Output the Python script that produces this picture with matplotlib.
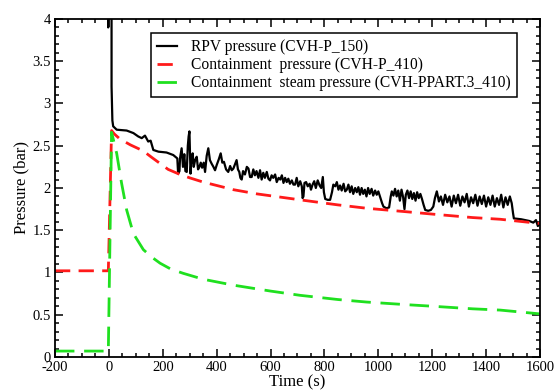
import matplotlib
matplotlib.use("Agg")
import matplotlib.pyplot as plt
from matplotlib.ticker import MultipleLocator

plt.rcParams["font.family"] = ["Liberation Serif", "DejaVu Serif"]
plt.rcParams["axes.unicode_minus"] = False

# RPV pressure (CVH-P_150) (off-scale before t=0)
t_rpv = [-200, -3, -2.5, -2, 8, 10, 13, 16, 29, 66, 91, 109, 122, 134, 146, 155, 165, 184,
         214, 239, 254, 257, 262, 264, 270, 275, 280, 284, 289, 293, 296, 299, 303, 307,
         311, 315, 320, 326, 331, 336, 341, 346, 352, 357, 363, 369, 375, 381, 388, 394,
         400, 408, 415, 421, 427, 435, 443, 450, 456, 462, 468, 474, 479, 484, 488, 493,
         498, 505, 512, 518, 524, 530, 536, 542, 548, 555, 561, 567, 573, 579, 586, 592,
         598, 604, 610, 617, 623, 630, 636, 642, 648, 654, 660, 666, 672, 679, 685, 691,
         697, 703, 710, 716, 719, 722, 726, 732, 738, 745, 750, 756, 762, 768, 775, 782,
         788, 794, 798, 803, 812, 821, 828, 833, 840, 846, 852, 858, 864, 871, 877, 883,
         889, 895, 901, 907, 914, 920, 926, 932, 938, 944, 950, 956, 962, 968, 975, 981,
         988, 994, 1000, 1008, 1014, 1019, 1030, 1040, 1046, 1050, 1056, 1062, 1068, 1074,
         1080, 1086, 1092, 1097, 1102, 1108, 1114, 1120, 1126, 1132, 1138, 1144, 1150, 1156,
         1162, 1168, 1174, 1185, 1195, 1204, 1210, 1217, 1225, 1232, 1240, 1248, 1256, 1264,
         1272, 1280, 1288, 1296, 1304, 1312, 1320, 1328, 1336, 1344, 1352, 1360, 1368, 1376,
         1384, 1392, 1400, 1408, 1416, 1424, 1432, 1440, 1448, 1456, 1464, 1472, 1480, 1488,
         1495, 1500, 1503, 1530, 1560, 1575, 1585, 1592, 1600]
p_rpv = [70, 70, 3.9, 70, 70, 3.2, 2.8, 2.73, 2.69, 2.68, 2.65, 2.61, 2.59, 2.62, 2.55, 2.56,
         2.45, 2.43, 2.42, 2.39, 2.35, 2.17, 2.2, 2.35, 2.47, 2.25, 2.4, 2.2, 2.19, 2.5, 2.61,
         2.67, 2.17, 2.35, 2.41, 2.25, 2.33, 2.37, 2.22, 2.25, 2.30, 2.24, 2.3, 2.19, 2.38,
         2.47, 2.33, 2.29, 2.25, 2.21, 2.27, 2.34, 2.41, 2.3, 2.31, 2.22, 2.19, 2.26, 2.21,
         2.23, 2.28, 2.33, 2.22, 2.19, 2.12, 2.10, 2.2, 2.16, 2.25, 2.23, 2.13, 2.13, 2.22,
         2.15, 2.2, 2.12, 2.21, 2.1, 2.18, 2.12, 2.19, 2.11, 2.09, 2.15, 2.12, 2.16, 2.07,
         2.12, 2.1, 2.15, 2.06, 2.12, 2.07, 2.11, 2.05, 2.09, 2.04, 2.04, 2.12, 2.02, 2.08,
         2.02, 1.88, 1.90, 2.06, 2.07, 2.02, 2.05, 1.98, 2.04, 2.08, 2.0, 2.09, 2.03, 2.0,
         2.13, 1.95, 1.87, 1.86, 1.86, 1.95, 2.04, 2.02, 2.07, 1.98, 2.03, 1.97, 2.05, 1.96,
         1.98, 2.04, 1.95, 2.02, 1.93, 2.0, 1.95, 2.01, 1.92, 2.0, 1.93, 1.98, 1.9, 2.0, 1.93,
         1.99, 1.91, 1.97, 1.92, 1.96, 1.88, 1.82, 1.78, 1.76, 1.77, 1.90, 1.96, 1.91, 1.99,
         1.90, 1.97, 1.85, 1.98, 1.89, 1.75, 1.92, 1.97, 1.88, 1.96, 1.87, 1.94, 1.85, 1.95,
         1.88, 1.93, 1.87, 1.80, 1.74, 1.73, 1.74, 1.78, 1.88, 1.96, 1.84, 1.90, 1.80, 1.92,
         1.83, 1.90, 1.78, 1.91, 1.82, 1.92, 1.79, 1.90, 1.83, 1.93, 1.78, 1.89, 1.82, 1.92,
         1.79, 1.90, 1.81, 1.91, 1.78, 1.89, 1.80, 1.91, 1.78, 1.88, 1.80, 1.92, 1.77, 1.89,
         1.80, 1.90, 1.82, 1.70, 1.64, 1.63, 1.61, 1.59, 1.62, 1.55, 1.58]

# Containment pressure (CVH-P_410)
t_cont = [-200, -2, 10, 20, 41, 80, 127, 160, 190, 220, 264, 300, 350, 400, 462, 550, 709,
          850, 957, 1100, 1204, 1350, 1452, 1600]
p_cont = [1.02, 1.02, 2.68, 2.64, 2.58, 2.51, 2.44, 2.36, 2.29, 2.22, 2.16, 2.12, 2.07,
          2.03, 1.98, 1.93, 1.86, 1.80, 1.76, 1.72, 1.69, 1.65, 1.63, 1.58]

# Containment steam pressure (CVH-PPART.3_410)
t_steam = [-200, -2, 10, 29, 47, 66, 91, 128, 160, 190, 230, 276, 350, 462, 600, 709, 850,
           957, 1100, 1204, 1350, 1452, 1600]
p_steam = [0.07, 0.07, 2.66, 2.41, 2.06, 1.74, 1.46, 1.27, 1.18, 1.11, 1.04, 0.99, 0.92,
           0.85, 0.78, 0.73, 0.68, 0.65, 0.62, 0.60, 0.57, 0.555, 0.51]

labels = ["RPV pressure (CVH-P_150)",
          "Containment  pressure (CVH-P_410)",
          "Containment  steam pressure (CVH-PPART.3_410)"]

fig = plt.figure(figsize=(5.57, 3.91), dpi=100)
ax = fig.add_axes([0.0987, 0.087, 0.8708, 0.8644])

ax.plot(t_rpv, p_rpv, color="black", lw=1.6, label=labels[0])
ax.plot(t_cont, p_cont, color="#ff1a1a", lw=2.0, dashes=(5.5, 3), label=labels[1])
ax.plot(t_steam, p_steam, color="#1fe01f", lw=2.0, dashes=(7, 3.5), label=labels[2])

ax.set_xlim(-200, 1600)
ax.set_ylim(0, 4)
ax.xaxis.set_major_locator(MultipleLocator(200))
ax.xaxis.set_minor_locator(MultipleLocator(50))
ax.yaxis.set_major_locator(MultipleLocator(0.5))
ax.yaxis.set_minor_locator(MultipleLocator(0.1))
ax.yaxis.set_major_formatter(plt.FuncFormatter(lambda v, _: f"{v:g}"))
ax.tick_params(which="both", direction="in", top=True, right=True, width=1.1,
               labelsize=10.5, pad=3)
ax.tick_params(which="major", length=6)
ax.tick_params(which="minor", length=3)
for s in ax.spines.values():
    s.set_linewidth(1.3)

ax.set_xlabel("Time (s)", fontsize=12, labelpad=0)
ax.set_ylabel("Pressure (bar)", fontsize=12, labelpad=2)

leg = ax.legend(loc="upper right", bbox_to_anchor=(0.9526, 0.9586), borderaxespad=0,
                fontsize=11.2, handlelength=1.3, handletextpad=0.9, labelspacing=0.12,
                borderpad=0.4, fancybox=False, framealpha=1)
leg.get_frame().set_edgecolor("black")
leg.get_frame().set_linewidth(1.1)

fig.savefig("out.png", dpi=100)
